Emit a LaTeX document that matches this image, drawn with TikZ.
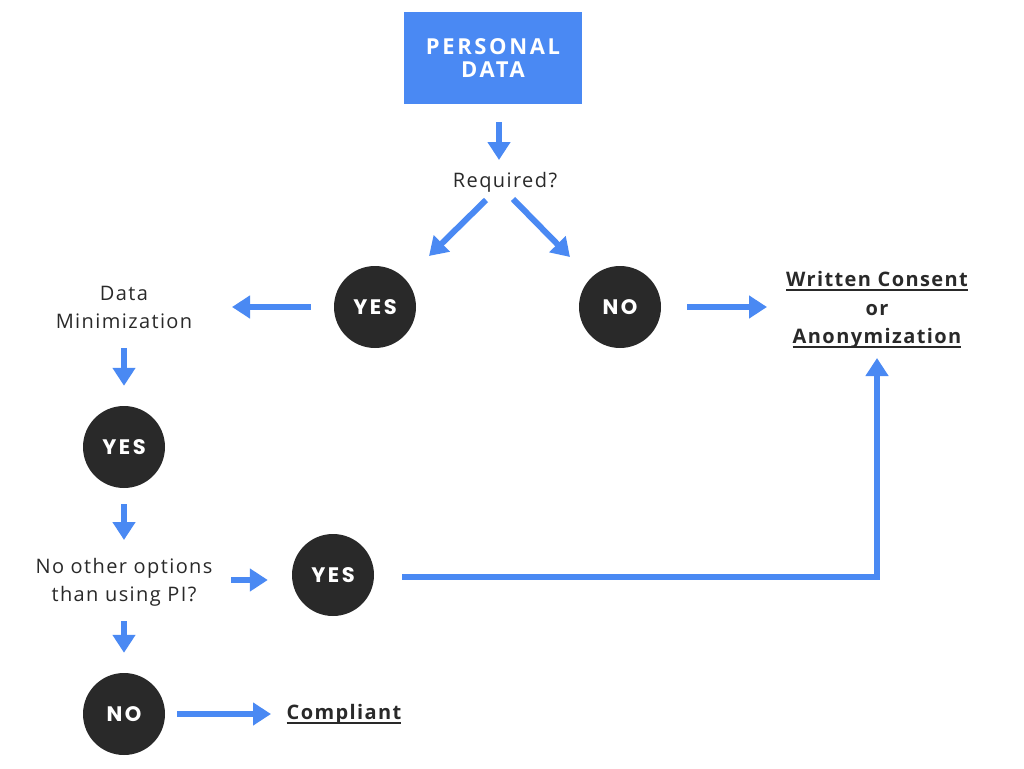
\documentclass[tikz,border=0pt]{standalone}
\usepackage{fontspec}
\setmainfont{Open Sans}[LetterSpace=7]
\newfontfamily\yesnofont{Poppins}[LetterSpace=12]
\usetikzlibrary{positioning}
\usetikzlibrary{arrows.meta}
\definecolor{fblue}{HTML}{4A89F3}
\definecolor{fdark}{HTML}{292929}
\newcommand{\ulbox}[1]{\setbox0\hbox{#1}\rlap{\rule[-4.5pt]{\wd0}{1.8pt}}\box0}
\tikzset{
    txt/.style={text=fdark, font=\fontsize{20}{28}\selectfont, align=center, inner sep=0pt},
    btxt/.style={txt, font=\bfseries\fontsize{20}{28.5}\selectfont},
    box/.style={fill=fblue, minimum width=178pt, minimum height=92pt, text=white, align=center, font=\bfseries\fontsize{22}{23}\selectfont\addfontfeatures{LetterSpace=12}},
    dot/.style={circle, fill=fdark, minimum size=82pt, inner sep=0pt, text=white, font=\yesnofont\bfseries\fontsize{21}{24}\selectfont},
    arr/.style={fblue, line width=6pt, -{Triangle[length=18pt,width=22pt]}}
}
\begin{document}
\begin{tikzpicture}[x=1pt,y=-1pt]
            \useasboundingbox (0,0) rectangle (1024,768);
            \node(pd) [box] at (493,58) {PERSONAL\\DATA};
            \node(req) [txt] at (505,182) {Required?};
            \node(y1) [dot] at (375,307) {YES};
            \node(n1) [dot] at (620,307) {NO};
            \node(dm) [txt] at (124,307) {Data\\Minimization};
            \node(wc) [btxt] at (877,310) {\ulbox{Written Consent}\\or\\\ulbox{Anonymization}};
            \node(y2) [dot] at (124,447) {YES};
            \node(oo) [txt] at (124,582) {No other options\\than using PI?};
            \node(y3) [dot] at (333,575) {YES};
            \node(n2) [dot] at (124,714) {NO};
            \node(cp) [btxt] at (344,714) {\ulbox{Compliant}};

            \draw[arr] ([xshift=6pt,yshift=-18pt] pd.south) -- ([xshift=-6pt,yshift=22pt] req.center);
            \draw[arr] ([xshift=-19pt,yshift=-18pt] req.center) -- ([xshift=54pt,yshift=51pt] y1.center);
            \draw[arr] ([xshift=8pt,yshift=-17pt] req.center) -- ([xshift=-50pt,yshift=50pt] n1.center);
            \draw[arr] ([xshift=-23pt] y1.west) -- ([xshift=108pt] dm.center);
            \draw[arr] ([xshift=26pt] n1.east) -- ([xshift=-110pt,yshift=3pt] wc.center);
            \draw[arr] ([yshift=-41pt] dm.center) -- ([yshift=20pt] y2.north);
            \draw[arr] ([yshift=-16pt] y2.south) -- ([yshift=42pt] oo.center);
            \draw[arr] ([xshift=107pt,yshift=2pt] oo.center) -- ([xshift=-24pt,yshift=-5pt] y3.west);
            \draw[arr] ([xshift=28pt,yshift=-2pt] y3.east) -| ([yshift=-48pt] wc.center);
            \draw[arr] ([yshift=-39pt] oo.center) -- ([yshift=20pt] n2.north);
            \draw[arr] ([xshift=12pt] n2.east) -- ([xshift=-73pt] cp.center);
        \end{tikzpicture}
\end{document}
